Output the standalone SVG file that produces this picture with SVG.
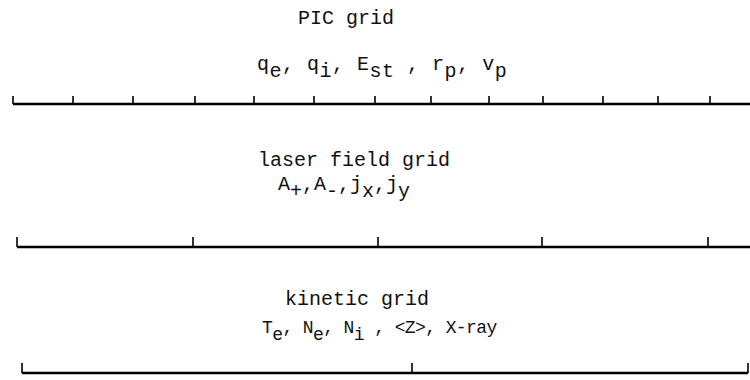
<svg xmlns="http://www.w3.org/2000/svg" width="750" height="380" viewBox="0 0 750 380">
<style>
text{font-family:"Liberation Mono","Courier New",monospace;font-size:20px;fill:#111}
.wide{letter-spacing:0.5px}
.small{font-size:18px;letter-spacing:-0.6px}
.axis{stroke:#000;stroke-width:2.6;fill:none}
.tick{stroke:#000;stroke-width:1.6;fill:none}
</style>
<rect width="750" height="380" fill="#fff"/>
<g id="pic-grid">
<text x="346" y="24" text-anchor="middle">PIC grid</text>
<text class="wide" x="257" y="70" xml:space="preserve">q<tspan dy="7">e</tspan><tspan dy="-7">, q</tspan><tspan dy="7">i</tspan><tspan dy="-7">, E</tspan><tspan dy="7">st</tspan><tspan dy="-7"> , r</tspan><tspan dy="7">p</tspan><tspan dy="-7">, v</tspan><tspan dy="7">p</tspan></text>
</g>
<g id="laser-field-grid">
<text x="258" y="166" xml:space="preserve">laser field grid</text>
<text x="278" y="190">A<tspan dy="7">+</tspan><tspan dy="-7">,A</tspan><tspan dy="7">-</tspan><tspan dy="-7">,j</tspan><tspan dy="7">x</tspan><tspan dy="-7">,j</tspan><tspan dy="7">y</tspan></text>
</g>
<g id="kinetic-grid">
<text x="285" y="305" xml:space="preserve">kinetic grid</text>
<text class="small" x="262" y="333" xml:space="preserve">T<tspan dy="7">e</tspan><tspan dy="-7">, N</tspan><tspan dy="7">e</tspan><tspan dy="-7">, N</tspan><tspan dy="7">i</tspan><tspan dy="-7"> , &lt;Z&gt;, X-ray</tspan></text>
</g>
<g id="connectors">
<line class="axis" x1="13" y1="104" x2="750" y2="104"/>
<path class="tick" d="M13,96V104 M73,96V104 M133,96V104 M195,96V104 M254,96V104 M314,96V104 M375,96V104 M431,96V104 M489,96V104 M543,96V104 M603,96V104 M658,96V104 M710,96V104"/>
<line class="axis" x1="17" y1="247" x2="750" y2="247"/>
<path class="tick" d="M17,237V247 M193,237V247 M378,237V247 M542,237V247 M708,237V247"/>
<line class="axis" x1="22" y1="373" x2="748" y2="373"/>
<path class="tick" d="M22,363V373 M412,363V373 M748,363V373"/>
</g>
</svg>
